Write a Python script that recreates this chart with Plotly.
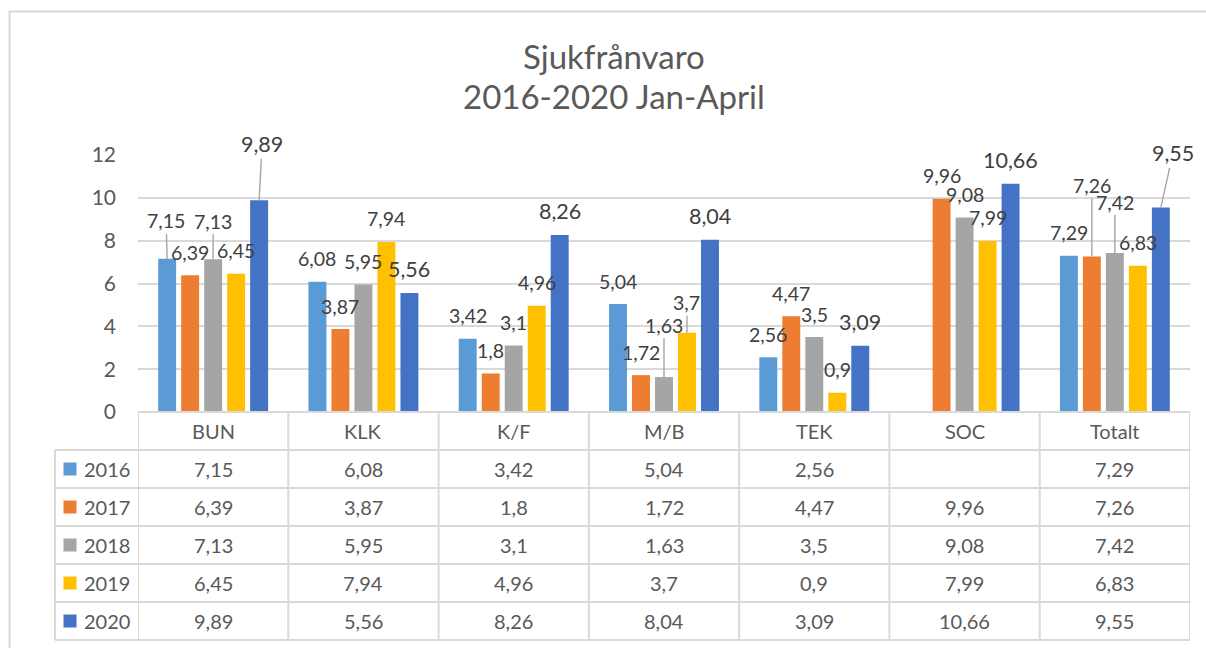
import plotly.graph_objects as go

# ---------------- data ----------------
categories = ["BUN", "KLK", "K/F", "M/B", "TEK", "SOC", "Totalt"]
years = ["2016", "2017", "2018", "2019", "2020"]
v2016 = [7.15, 6.08, 3.42, 5.04, 2.56, None, 7.29]
v2017 = [6.39, 3.87, 1.8, 1.72, 4.47, 9.96, 7.26]
v2018 = [7.13, 5.95, 3.1, 1.63, 3.5, 9.08, 7.42]
v2019 = [6.45, 7.94, 4.96, 3.7, 0.9, 7.99, 6.83]
v2020 = [9.89, 5.56, 8.26, 8.04, 3.09, 10.66, 9.55]
series = [v2016, v2017, v2018, v2019, v2020]
title_lines = ["Sjukfrånvaro", "2016-2020 Jan-April"]
y_ticks = [0, 2, 4, 6, 8, 10, 12]

# ---------------- style ----------------
colors = ["#5b9bd5", "#ed7d31", "#a5a5a5", "#ffc000", "#4472c4"]
FONT = "Lato, Carlito, Calibri, sans-serif"
AXIS_TXT = "#595959"
LABEL_TXT = "#404040"
GRID = "#d9d9d9"
W, H = 1206, 648
L, R, T, B = 138, 16, 155, 236
PW, PH = W - L - R, H - T - B
BARGAP, GROUPGAP = 0.235, 0.22

# label placement tweaks (pixel offsets of label centre from bar top; leader line)
label_tweaks = {
    ("2016", "BUN"): (-1, -38, True),
    ("2018", "BUN"): (0, -38, True),
    ("2020", "BUN"): (3, -56, True),
    ("2018", "M/B"): (0, -52, True),
    ("2019", "M/B"): (0, -30, True),
    ("2017", "Totalt"): (0, -71, True),
    ("2018", "Totalt"): (0, -51, True),
    ("2020", "Totalt"): (12, -54, True),
}


def py2paper(py):
    return (H - B - py) / PH


def px2paper(px):
    return (px - L) / PW


def fmt(v):
    return ("%g" % v).replace(".", ",")


fig = go.Figure()
for yr, vals, col in zip(years, series, colors):
    fig.add_trace(go.Bar(x=categories, y=vals, name=yr, marker=dict(color=col, line=dict(width=0)),
                         showlegend=False, hoverinfo="skip"))

annotations = []
shapes = []

# data labels
cat_w = PW / len(categories)
slot = cat_w * (1 - BARGAP) / len(years)
for i, (yr, vals) in enumerate(zip(years, series)):
    off = (i - (len(years) - 1) / 2) * slot
    big = (yr == "2020")
    fsize = 21.5 if big else 19.5
    default_dy = -24 if big else -23
    for cat, v in zip(categories, vals):
        if v is None:
            continue
        dx, dy, leader = label_tweaks.get((yr, cat), (0, default_dy, False))
        if leader:
            annotations.append(dict(x=cat, y=v, xref="x", yref="y", text=fmt(v), showarrow=True,
                                    ax=dx, ay=dy, axref="pixel", ayref="pixel", xshift=off,
                                    xanchor="center", yanchor="middle",
                                    arrowhead=0, arrowwidth=1.4, arrowcolor="#a6a6a6", standoff=0,
                                    font=dict(family=FONT, size=fsize, color=LABEL_TXT)))
        else:
            annotations.append(dict(x=cat, y=v, xref="x", yref="y", text=fmt(v), showarrow=False,
                                    xshift=off + dx, yshift=-dy, xanchor="center", yanchor="middle",
                                    font=dict(family=FONT, size=fsize, color=LABEL_TXT)))

# title
for txt, py in zip(title_lines, [56, 96]):
    annotations.append(dict(x=px2paper(614), y=py2paper(py), xref="paper", yref="paper", text=txt,
                            showarrow=False, xanchor="center", yanchor="middle",
                            font=dict(family=FONT, size=33, color=AXIS_TXT)))

# data table
head_top, head_bot, row_h = 412, 450, 38
left_col = 55
tbl_right = L + PW
n_rows = len(years)
line_style = dict(color=GRID, width=2)
shapes.append(dict(type="line", xref="paper", yref="paper", x0=px2paper(L), x1=px2paper(tbl_right),
                   y0=py2paper(head_top), y1=py2paper(head_top), line=line_style))
for r in range(n_rows + 1):
    yy = head_bot + r * row_h
    shapes.append(dict(type="line", xref="paper", yref="paper", x0=px2paper(left_col), x1=px2paper(tbl_right),
                       y0=py2paper(yy), y1=py2paper(yy), line=line_style))
bottom = head_bot + n_rows * row_h
shapes.append(dict(type="line", xref="paper", yref="paper", x0=px2paper(left_col), x1=px2paper(left_col),
                   y0=py2paper(head_bot), y1=py2paper(bottom), line=line_style))
for k in range(len(categories) + 1):
    shapes.append(dict(type="line", xref="x", yref="paper", x0=k - 0.5, x1=k - 0.5,
                       y0=py2paper(head_top), y1=py2paper(bottom), line=line_style))

for k, cat in enumerate(categories):
    annotations.append(dict(x=cat, y=py2paper((head_top + head_bot) / 2), xref="x", yref="paper",
                            text=cat, showarrow=False, xanchor="center", yanchor="middle",
                            font=dict(family=FONT, size=20, color=AXIS_TXT)))
for r, (yr, vals, col) in enumerate(zip(years, series, colors)):
    yc = head_bot + r * row_h + row_h / 2
    shapes.append(dict(type="rect", xref="paper", yref="paper", x0=px2paper(63.5), x1=px2paper(76.5),
                       y0=py2paper(yc - 6.5), y1=py2paper(yc + 6.5), fillcolor=col, line=dict(width=0)))
    annotations.append(dict(x=px2paper(82), y=py2paper(yc), xref="paper", yref="paper", text=yr,
                            xanchor="left", yanchor="middle", showarrow=False,
                            font=dict(family=FONT, size=20, color=AXIS_TXT)))
    for cat, v in zip(categories, vals):
        if v is None:
            continue
        annotations.append(dict(x=cat, y=py2paper(yc), xref="x", yref="paper", text=fmt(v),
                                showarrow=False, xanchor="center", yanchor="middle",
                                font=dict(family=FONT, size=20, color=AXIS_TXT)))

# chart border
shapes.append(dict(type="rect", xref="paper", yref="paper", x0=px2paper(9.5), x1=px2paper(1230),
                   y0=py2paper(11.5), y1=py2paper(680), line=dict(color=GRID, width=2), layer="below"))

fig.update_layout(
    width=W, height=H,
    margin=dict(l=L, r=R, t=T, b=B),
    paper_bgcolor="white", plot_bgcolor="white",
    barmode="group", bargap=BARGAP, bargroupgap=GROUPGAP,
    font=dict(family=FONT, color=AXIS_TXT),
    xaxis=dict(type="category", range=[-0.5, len(categories) - 0.5], showticklabels=False,
               showgrid=False, zeroline=False, showline=False, fixedrange=True),
    yaxis=dict(range=[0, 12], tickvals=y_ticks, showgrid=True, gridcolor=GRID, gridwidth=1.5,
               zeroline=False, showline=False, ticklabelstandoff=21,
               tickfont=dict(family=FONT, size=21, color=AXIS_TXT), fixedrange=True),
    annotations=annotations,
    shapes=shapes,
)

fig.write_html("out.html", config={"displayModeBar": False},
               post_script="document.body.style.margin='0';document.body.style.overflow='hidden';")
